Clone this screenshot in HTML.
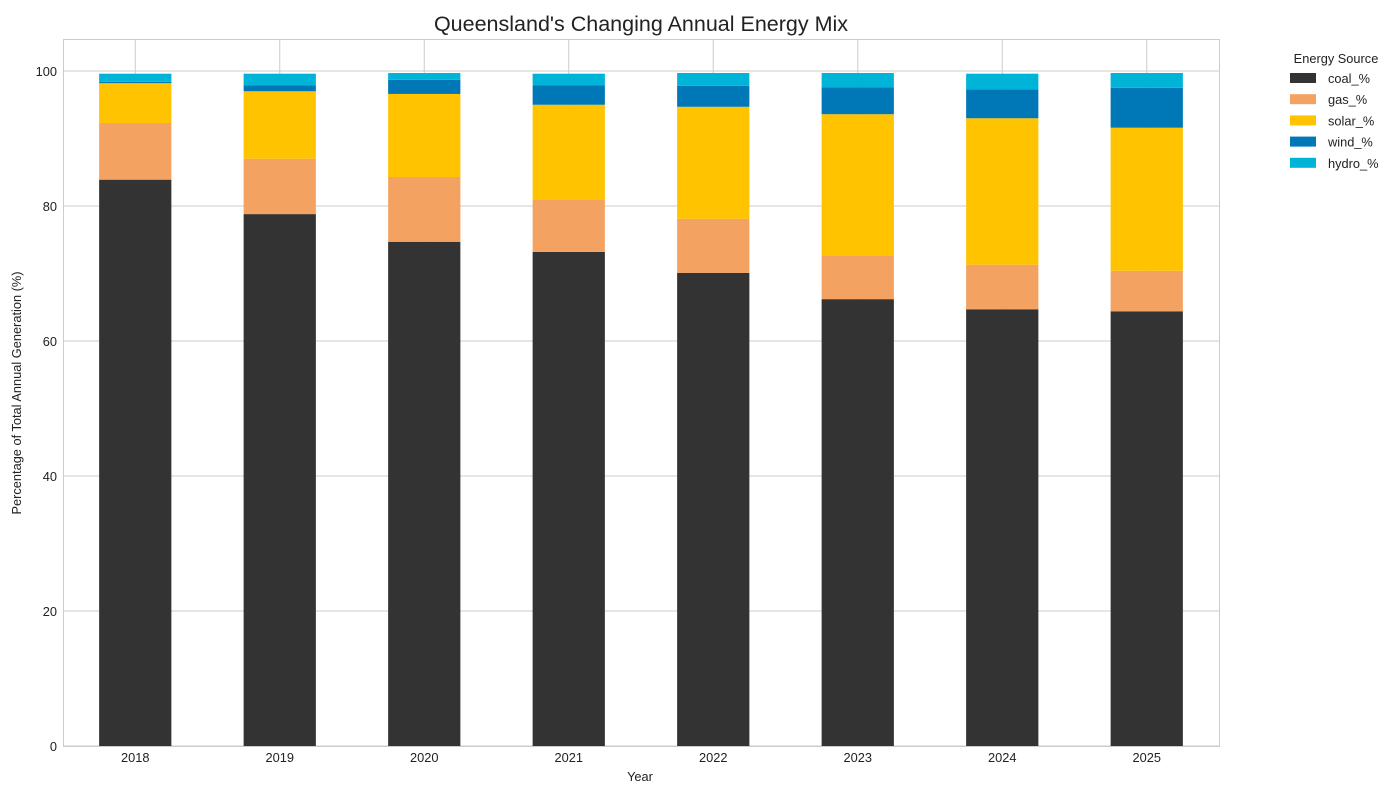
<!DOCTYPE html>
<html><head><meta charset="utf-8"><style>
html,body{margin:0;padding:0;background:#fff;}
svg{display:block;font-family:"Liberation Sans",Arial,sans-serif;}
</style></head><body>
<svg id="chart" width="1400" height="800" viewBox="0 0 1400 800">
<rect x="0" y="0" width="1400" height="800" fill="#fff"/>
<text x="641" y="31" font-size="21.5" text-anchor="middle" fill="#222">Queensland's Changing Annual Energy Mix</text>
<g id="grid"></g>
<g id="bars"></g>
<rect x="63.5" y="39.5" width="1156" height="707" fill="none" stroke="#ccc" stroke-width="1"/>
<g id="ticks" font-size="12.8" fill="#222"></g>
<text x="640" y="781" font-size="12.8" text-anchor="middle" fill="#222">Year</text>
<text transform="translate(21,393) rotate(-90)" font-size="12.8" text-anchor="middle" fill="#222">Percentage of Total Annual Generation (%)</text>
<g id="legend" font-size="12.8" fill="#222">
<text x="1336" y="63" text-anchor="middle">Energy Source</text>
</g>
</svg>
<script>
const years = ['2018','2019','2020','2021','2022','2023','2024','2025'];
const coal  = [83.9, 78.8, 74.7, 73.2, 70.1, 66.2, 64.7, 64.4];
const gas   = [8.4, 8.2, 9.6, 7.8, 8.0, 6.5, 6.6, 6.0];
const solar = [5.9, 10.0, 12.3, 14.0, 16.6, 20.9, 21.7, 21.2];
const wind  = [0.2, 0.9, 2.1, 2.9, 3.1, 4.0, 4.3, 5.9];
const hydro = [1.2, 1.7, 1.0, 1.7, 1.9, 2.1, 2.3, 2.2];
const seriesNames = ['coal_%','gas_%','solar_%','wind_%','hydro_%'];
const yTicks = [0,20,40,60,80,100];

const series=[coal,gas,solar,wind,hydro];
const colors=['#333333','#f4a261','#ffc300','#0077b6','#00b4d8'];
const NS='http://www.w3.org/2000/svg';
const L=63,R=1219,T=39,B=746,yMax=(B-T)/6.75;
const band=(R-L)/years.length;
const x=i=>L+band*(i+0.5);
const y=v=>B-(v/yMax)*(B-T);
function mk(tag,attrs,parent){const e=document.createElementNS(NS,tag);for(const k in attrs)e.setAttribute(k,attrs[k]);parent.appendChild(e);return e;}
const grid=document.getElementById('grid'),bars=document.getElementById('bars'),ticks=document.getElementById('ticks'),legend=document.getElementById('legend');
yTicks.forEach(t=>{
 const l=mk('line',{x1:L,x2:R,y1:y(t),y2:y(t),stroke:'#ccc','stroke-width':1},grid);
 
 
 const tx=mk('text',{x:L-6,y:y(t)+5,'text-anchor':'end'},ticks);tx.textContent=t;
 
 
});
years.forEach((yr,i)=>{
 const l=mk('line',{x1:x(i),x2:x(i),y1:T,y2:B,stroke:'#ccc','stroke-width':1},grid);
 
 
 const tx=mk('text',{x:x(i),y:B+16,'text-anchor':'middle'},ticks);tx.textContent=yr;
 
 
 let acc=0;
 series.forEach((s,k)=>{
  const v=s[i];const r=mk('rect',{x:x(i)-band*0.25,width:band*0.5,y:y(acc+v),height:y(acc)-y(acc+v),fill:colors[k]},bars);
  
  
  acc+=v;
 });
});
seriesNames.forEach((n,k)=>{
 const yy=78+k*21.2;
 const r=mk('rect',{x:1290,y:yy-5,width:26,height:10,fill:colors[k]},legend);
 
 
 const t=mk('text',{x:1328,y:yy+5},legend);t.textContent=n;
 
 
});
</script>
</body></html>
